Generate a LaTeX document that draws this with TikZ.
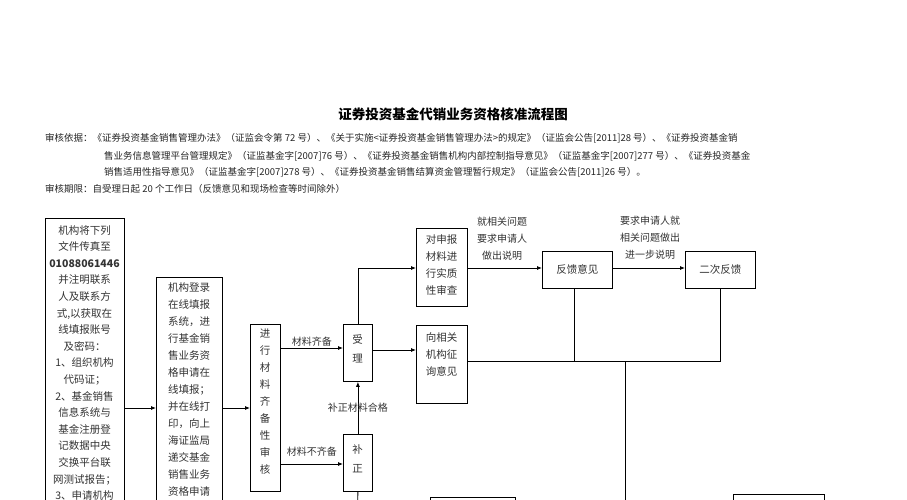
\documentclass[tikz,border=0pt]{standalone}
\usepackage{fontspec}
\setmainfont{Noto Sans CJK SC}
\usetikzlibrary{arrows.meta}
\begin{document}
\begin{tikzpicture}[x=1pt,y=-1pt,
  box/.style={draw,line width=0.8pt,inner sep=0pt,anchor=north west},
  arr/.style={-{Latex[length=5pt,width=4pt]},line width=0.8pt},
  ln/.style={line width=0.8pt},
  bt/.style={font=\fontsize{10.5}{19}\selectfont,align=center,anchor=north,inner sep=0pt,text=black!80},
  lab/.style={font=\fontsize{10}{17}\selectfont,align=center,inner sep=1pt,text=black!80},
  hd/.style={font=\fontsize{9.5}{12}\selectfont,anchor=west,inner sep=0pt,text=black!85}]
\useasboundingbox (0,0) rectangle (907,500);
\clip (0,0) rectangle (907,500);
\fill[white] (0,0) rectangle (907,500);
\node[font=\fontsize{13.5}{16}\bfseries\selectfont] (title) at (453,114) {证券投资基金代销业务资格核准流程图};
\node[hd] (h1) at (45,138) {审核依据：《证券投资基金销售管理办法》（证监会令第 72 号）、《关于实施<证券投资基金销售管理办法>的规定》（证监会公告[2011]28 号）、《证券投资基金销};
\node[hd] (h2) at (104,156) {售业务信息管理平台管理规定》（证监基金字[2007]76 号）、《证券投资基金销售机构内部控制指导意见》（证监基金字[2007]277 号）、《证券投资基金};
\node[hd] (h3) at (104,172) {销售适用性指导意见》（证监基金字[2007]278 号）、《证券投资基金销售结算资金管理暂行规定》（证监会公告[2011]26 号）。};
\node[hd] (h4) at (45,189) {审核期限：自受理日起 20 个工作日（反馈意见和现场检查等时间除外）};
% boxes
\node[box,minimum width=79,minimum height=320] (b1) at (45,218) {};
\node[bt,font=\fontsize{10.5}{16.6}\selectfont] (t1) at (84.5,225) {机构将下列\\文件传真至\\{\bfseries 01088061446}\\并注明联系\\人及联系方\\式,以获取在\\线填报账号\\及密码：\\1、组织机构\\代码证；\\2、基金销售\\信息系统与\\基金注册登\\记数据中央\\交换平台联\\网测试报告；\\3、申请机构};
\node[box,minimum width=66,minimum height=260] (b2) at (156,277) {};
\node[bt,font=\fontsize{10.5}{17}\selectfont] (t2) at (189,282) {机构登录\\在线填报\\系统，进\\行基金销\\售业务资\\格申请在\\线填报；\\并在线打\\印，向上\\海证监局\\递交基金\\销售业务\\资格申请};
\node[box,minimum width=30,minimum height=167] (b3) at (250,324) {};
\node[bt,font=\fontsize{10.5}{17}\selectfont] (t3) at (265,329) {进\\行\\材\\料\\齐\\备\\性\\审\\核};
\node[box,minimum width=29,minimum height=57] (sl) at (343,324) {};
\node[bt,font=\fontsize{10.5}{19}\selectfont] at (357.5,334) {受\\理};
\node[box,minimum width=29,minimum height=57] (bz) at (343,434) {};
\node[bt,font=\fontsize{10.5}{19}\selectfont] at (357.5,444) {补\\正};
\node[box,minimum width=51,minimum height=78] (dsb) at (416,228) {};
\node[bt,font=\fontsize{10.5}{17}\selectfont] at (441.5,234) {对申报\\材料进\\行实质\\性审查};
\node[box,minimum width=51,minimum height=78] (xxg) at (416,325) {};
\node[bt,font=\fontsize{10.5}{17}\selectfont] at (441.5,332) {向相关\\机构征\\询意见};
\node[box,minimum width=70,minimum height=37] (fk) at (542,251) {};
\node[font=\fontsize{10.5}{12}\selectfont,text=black!80] at (fk.center) {反馈意见};
\node[box,minimum width=70,minimum height=37] (ec) at (685,251) {};
\node[font=\fontsize{10.5}{12}\selectfont,text=black!80] at (ec.center) {二次反馈};
\node[box,minimum width=85,minimum height=40] (b7) at (430,497) {};
\node[box,minimum width=91,minimum height=40] (b8) at (733,494) {};
% connectors
\draw[arr] (b1.east |- 0,408) -- (b2.west |- 0,408);
\draw[arr] (b2.east |- 0,408) -- (b3.west |- 0,408);
\draw[arr] (b3.east |- 0,348) -- node[lab,above] {材料齐备} (sl.west |- 0,348);
\draw[arr] (b3.east |- 0,464) -- node[lab,above,yshift=6] {材料不齐备} (bz.west |- 0,464);
\draw[arr] (bz.north) -- node[lab,pos=0.5] {补正材料合格} (sl.south);
\draw[ln] (bz.south) -- (357.5,520);
\draw[arr] (sl.north) |- (dsb.west |- 0,268);
\draw[arr] (sl.east |- 0,350) -- (xxg.west |- 0,350);
\draw[arr] (dsb.east |- 0,268) -- (fk.west |- 0,268);
\node[lab] (l1) at (502,239) {就相关问题\\要求申请人\\做出说明};
\draw[arr] (fk.east |- 0,268) -- (ec.west |- 0,268);
\node[lab] (l2) at (650,238) {要求申请人就\\相关问题做出\\进一步说明};
\coordinate (j) at (625,361);
\draw[ln] (xxg.east |- 0,361) -- (ec.south |- 0,361) -- (ec.south);
\draw[ln] (fk.south -| 574,0) -- (574,361);
\draw[ln] (j) -- (625,520);
\end{tikzpicture}
\end{document}
